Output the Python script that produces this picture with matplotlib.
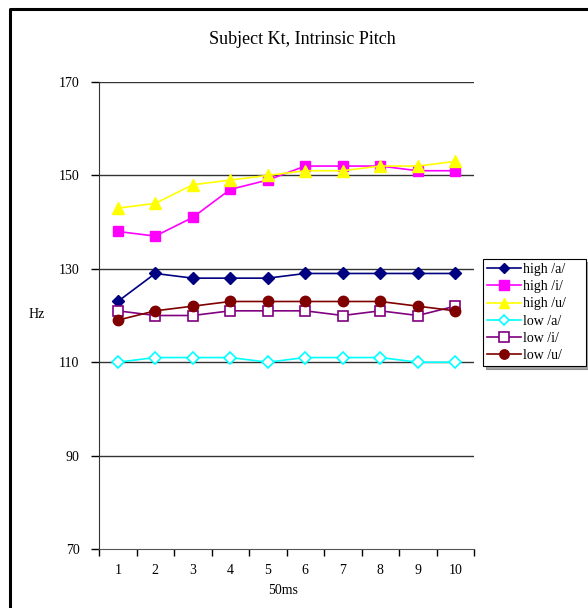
import matplotlib
matplotlib.use("Agg")
import matplotlib.pyplot as plt
from matplotlib.lines import Line2D

# Time frames (50 ms steps) and mean pitch per vowel/condition (Hz)
frames = [1, 2, 3, 4, 5, 6, 7, 8, 9, 10]
high_a = [123, 129, 128, 128, 128, 129, 129, 129, 129, 129]
high_i = [138, 137, 141, 147, 149, 152, 152, 152, 151, 151]
high_u = [143, 144, 148, 149, 150, 151, 151, 152, 152, 153]
low_a = [110, 111, 111, 111, 110, 111, 111, 111, 110, 110]
low_i = [121, 120, 120, 121, 121, 121, 120, 121, 120, 122]
low_u = [119, 121, 122, 123, 123, 123, 123, 123, 122, 121]
series_labels = ["high /a/", "high /i/", "high /u/", "low /a/", "low /i/", "low /u/"]
y_ticks = [70, 90, 110, 130, 150, 170]

plt.rcParams["font.family"] = ["Liberation Serif", "DejaVu Serif"]

W, H = 588, 608
fig = plt.figure(figsize=(W / 100, H / 100), dpi=100)
fig.patch.set_facecolor("white")

ax = fig.add_axes([99 / W, 1 - 549 / H, 375 / W, 467 / H])

styles = [
    dict(color="#000080", marker="D", mfc="#000080", mec="#000080", ms=6),
    dict(color="#FF00FF", marker="s", mfc="#FF00FF", mec="#FF00FF", ms=7.5),
    dict(color="#FFFF00", marker="^", mfc="#FFFF00", mec="#FFFF00", ms=8.5),
    dict(color="#00FFFF", marker="D", mfc="white", mec="#00FFFF", ms=6, mew=1.2),
    dict(color="#800080", marker="s", mfc="white", mec="#800080", ms=7.5, mew=1.2),
    dict(color="#800000", marker="o", mfc="#800000", mec="#800000", ms=7.5),
]
all_series = [high_a, high_i, high_u, low_a, low_i, low_u]
for vals, lab, st in zip(all_series, series_labels, styles):
    ax.plot(frames, vals, lw=1.2, label=lab, zorder=3, **st)

ax.set_xlim(0.5, 10.5)
ax.set_ylim(70, 170)
ax.set_yticks(y_ticks)
ax.set_yticklabels([str(v) for v in y_ticks], fontsize=10)
ax.set_xticks([f - 0.5 for f in frames] + [10.5])
ax.set_xticklabels([])
ax.set_xticks(frames, minor=True)
ax.set_xticklabels([str(f) for f in frames], minor=True, fontsize=10)
ax.tick_params(axis="x", which="minor", length=0, pad=11)
ax.tick_params(axis="x", which="major", direction="out", length=5, width=1)
ax.tick_params(axis="y", direction="out", length=6, width=1, pad=8)

for v in y_ticks[1:]:
    ax.axhline(v, color="#333333", lw=1.0, zorder=1)

for s in ["top", "right"]:
    ax.spines[s].set_visible(False)
ax.spines["left"].set_color("#333333")
ax.spines["bottom"].set_color("#555555")

fig.text(302 / W, 1 - 40 / H, "Subject Kt, Intrinsic Pitch", ha="center", va="center", fontsize=13)
fig.text(37 / W, 1 - 315 / H, "Hz", ha="center", va="center", fontsize=10)
fig.text(283 / W, 1 - 591 / H, "50ms", ha="center", va="center", fontsize=10)

leg = fig.legend(loc="upper left",
                 bbox_to_anchor=(483 / W, 1 - 363 / H, 103 / W, 104 / H),
                 mode="expand", frameon=True, fancybox=False, shadow=True,
                 fontsize=10, markerscale=0.9,
                 handlelength=2.4, handletextpad=0.2, labelspacing=0.3,
                 borderpad=0.3, borderaxespad=0)
leg.get_frame().set_edgecolor("black")
leg.get_frame().set_linewidth(0.8)

# outer frame along the left and top edges
fig.add_artist(Line2D([10 / W, 10 / W, 1.0], [0.0, 1 - 9 / H, 1 - 9 / H],
                      transform=fig.transFigure, color="black", lw=2.2))

fig.savefig("out.png", dpi=100, facecolor="white")
